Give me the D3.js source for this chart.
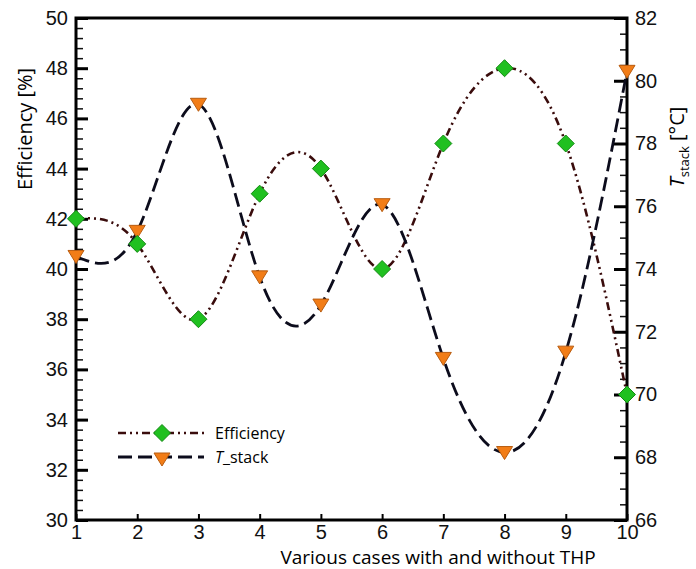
<!DOCTYPE html>
<html>
<head>
<meta charset="utf-8">
<script src="https://cdn.jsdelivr.net/npm/d3@7"></script>
<style>
  body { margin: 0; background: #fff; }
  svg { display: block; }
  .tick text { font-family: 'Liberation Sans', Arial, sans-serif; font-size: 20px; fill: #111; }
</style>
</head>
<body>
<svg id="chart" width="696" height="569"></svg>
<script>
// data
var cases = [1, 2, 3, 4, 5, 6, 7, 8, 9, 10];
var efficiency = [42, 41, 38, 43, 44, 40, 45, 48, 45, 35];
var tStack = [74.4, 75.2, 79.25, 73.75, 72.85, 76.05, 71.15, 68.15, 71.35, 80.3];
var effTicks = [30, 32, 34, 36, 38, 40, 42, 44, 46, 48, 50];
var tTicks = [66, 68, 70, 72, 74, 76, 78, 80, 82];

var svg = d3.select('#chart'),
  margin = { top: 18, right: 69, bottom: 49, left: 76 },
  width = +svg.attr('width') - margin.left - margin.right,
  height = +svg.attr('height') - margin.top - margin.bottom;

var x = d3.scaleLinear().domain([1, 10]).range([0, width]);
var yL = d3.scaleLinear().domain([30, 50]).range([height, 0]);
var yR = d3.scaleLinear().domain([66, 82]).range([height, 0]);

var g = svg.append('g')
  .attr('transform', 'translate(' + margin.left + ',' + margin.top + ')');

// minor ticks
g.append('g')
  .call(d3.axisLeft(yL).tickValues(d3.range(30, 50.01, 0.4)).tickSize(-7).tickFormat(''))
  .call((a) => a.select('.domain').remove())
  .selectAll('line').attr('stroke', '#111').attr('stroke-width', 1.5);
g.append('g')
  .attr('transform', 'translate(' + width + ',0)')
  .call(d3.axisRight(yR).tickValues(d3.range(66, 82.01, 0.5)).tickSize(-7).tickFormat(''))
  .call((a) => a.select('.domain').remove())
  .selectAll('line').attr('stroke', '#111').attr('stroke-width', 1.5);

// major axes
g.append('g')
  .call(d3.axisLeft(yL).tickValues(effTicks).tickSize(-12).tickPadding(8))
  .call((a) => a.select('.domain').remove())
  .selectAll('line').attr('stroke', '#000').attr('stroke-width', 3);
g.append('g')
  .attr('transform', 'translate(' + width + ',0)')
  .call(d3.axisRight(yR).tickValues(tTicks).tickSize(-13).tickPadding(8))
  .call((a) => a.select('.domain').remove())
  .selectAll('line').attr('stroke', '#000').attr('stroke-width', 3);
g.append('g')
  .attr('transform', 'translate(0,' + height + ')')
  .call(d3.axisBottom(x).tickValues(cases).tickSize(-6).tickPadding(5).tickFormat(d3.format('d')))
  .call((a) => a.select('.domain').remove())
  .selectAll('line').attr('stroke', '#000').attr('stroke-width', 2);

// frame
g.append('rect')
  .attr('width', width).attr('height', height)
  .attr('fill', 'none').attr('stroke', '#000').attr('stroke-width', 3);

// curves
var effLine = d3.line()
  .x((d, i) => x(cases[i]))
  .y((d) => yL(d))
  .curve(d3.curveNatural);
var tLine = d3.line()
  .x((d, i) => x(cases[i]))
  .y((d) => yR(d))
  .curve(d3.curveNatural);

var effDash = '8,4,2,4,2,4';
var tDash = '14,6';

g.append('path')
  .attr('d', effLine(efficiency))
  .attr('fill', 'none').attr('stroke', '#3a0c0c').attr('stroke-width', 2.6)
  .attr('stroke-dasharray', effDash);
g.append('path')
  .attr('d', tLine(tStack))
  .attr('fill', 'none').attr('stroke', '#0c0c1c').attr('stroke-width', 2.8)
  .attr('stroke-dasharray', tDash);

function diamond(sel) {
  sel.attr('d', 'M0,-8.5L8.5,0L0,8.5L-8.5,0Z')
    .attr('fill', '#20c020').attr('stroke', '#138a13').attr('stroke-width', 1);
}
function triangle(sel) {
  sel.attr('d', 'M-8,-6L8,-6L0,7Z')
    .attr('fill', '#f27d17').attr('stroke', '#b85c10').attr('stroke-width', 1);
}

g.selectAll('.tri')
  .data(tStack)
  .enter()
  .append('path')
  .attr('class', 'tri')
  .attr('transform', (d, i) => 'translate(' + x(cases[i]) + ',' + yR(d) + ')')
  .call(triangle);

g.selectAll('.dia')
  .data(efficiency)
  .enter()
  .append('path')
  .attr('class', 'dia')
  .attr('transform', (d, i) => 'translate(' + x(cases[i]) + ',' + yL(d) + ')')
  .call(diamond);

// legend
var legend = svg.append('g').attr('font-family', "'Open Sans', sans-serif").attr('font-size', 16);
legend.append('line')
  .attr('x1', 118).attr('x2', 204).attr('y1', 433).attr('y2', 433)
  .attr('stroke', '#3a0c0c').attr('stroke-width', 2.6).attr('stroke-dasharray', effDash);
legend.append('path').attr('transform', 'translate(162,433)').call(diamond);
legend.append('text').attr('x', 215).attr('y', 439).text('Efficiency');

legend.append('line')
  .attr('x1', 118).attr('x2', 204).attr('y1', 457).attr('y2', 457)
  .attr('stroke', '#0c0c1c').attr('stroke-width', 2.8).attr('stroke-dasharray', tDash);
legend.append('path').attr('transform', 'translate(162,459)').call(triangle);
var tl = legend.append('text').attr('x', 215).attr('y', 463);
tl.append('tspan').attr('font-style', 'italic').text('T');
tl.append('tspan').text('_stack');

// axis titles
svg.append('text')
  .attr('transform', 'translate(32,129) rotate(-90)')
  .attr('text-anchor', 'middle')
  .attr('font-family', "'Open Sans', sans-serif").attr('font-size', 20)
  .text('Efficiency [%]');

var rt = svg.append('text')
  .attr('transform', 'translate(684,147) rotate(-90)')
  .attr('text-anchor', 'middle')
  .attr('font-family', "'Open Sans', sans-serif").attr('font-size', 20);
rt.append('tspan').attr('font-style', 'italic').text('T');
rt.append('tspan').attr('font-size', 13).attr('dy', 5).text('stack');
rt.append('tspan').attr('dy', -5).text(' [°C]');

svg.append('text')
  .attr('x', 438).attr('y', 564)
  .attr('text-anchor', 'middle')
  .attr('font-family', "'Open Sans', sans-serif").attr('font-size', 19)
  .text('Various cases with and without THP');
</script>
</body>
</html>
